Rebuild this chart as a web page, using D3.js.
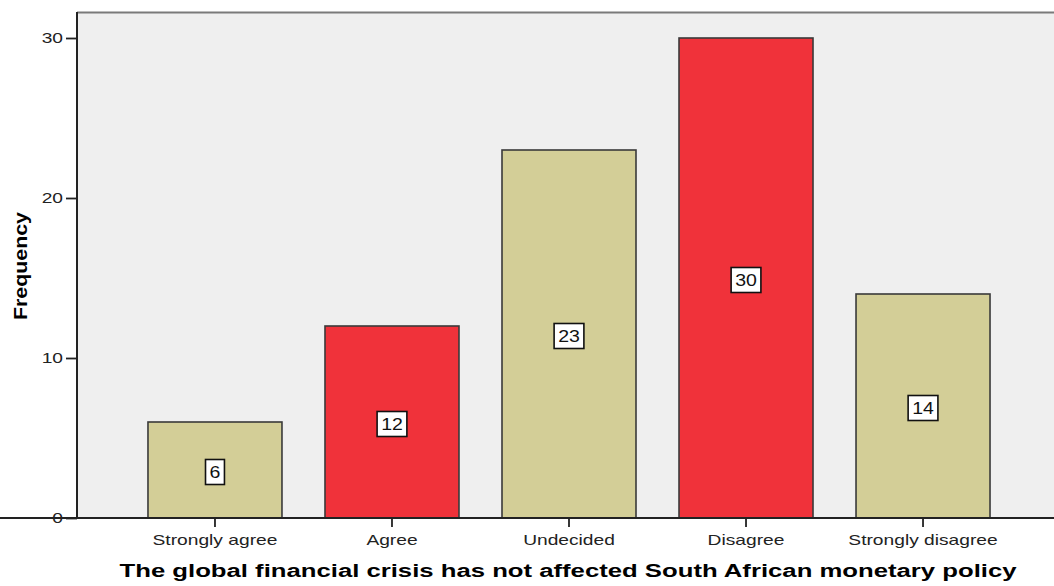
<!DOCTYPE html>
<html>
<head>
<meta charset="utf-8">
<script src="https://cdn.jsdelivr.net/npm/d3@7"></script>
<style>
  html, body { margin: 0; padding: 0; background: #ffffff; }
  svg { display: block; }
</style>
</head>
<body>
<svg id="chart" width="1054" height="586" font-family="'Liberation Sans', Arial, sans-serif"></svg>
<script>
// Responses to the statement, in scale order
const categories = ["Strongly agree", "Agree", "Undecided", "Disagree", "Strongly disagree"];
const frequencies = [6, 12, 23, 30, 14];
const barColors = ["#d3ce97", "#f0323a", "#d3ce97", "#f0323a", "#d3ce97"];
const yTicks = [0, 10, 20, 30];
const xTitle = "The global financial crisis has not affected South African monetary policy";
const yTitle = "Frequency";

const FONT = "'Liberation Sans', Arial, sans-serif";
const STRETCH = 1.28; // horizontal widening of the label type

const svg = d3.select("#chart");
const plot = { left: 77, top: 12, right: 1061, bottom: 518 };

const x = d3.scaleBand()
  .domain(categories)
  .range([plot.left, plot.right])
  .paddingInner(0.243)
  .paddingOuter(0.401);

const y = d3.scaleLinear()
  .domain([0, 30])
  .range([plot.bottom, 38]);

// widen text horizontally while keeping its anchor point in place
function widen(sel, sx) {
  sel.each(function () {
    const t = d3.select(this);
    const x0 = +t.attr("x") || 0;
    t.attr("x", x0 / sx).attr("transform", `scale(${sx},1)`);
  });
}

// plot background
svg.append("rect")
  .attr("x", plot.left).attr("y", plot.top)
  .attr("width", plot.right - plot.left).attr("height", plot.bottom - plot.top)
  .attr("fill", "#efefef");

// top frame line
svg.append("line")
  .attr("x1", plot.left).attr("x2", plot.right)
  .attr("y1", plot.top + 0.5).attr("y2", plot.top + 0.5)
  .attr("stroke", "#7a7a7a").attr("stroke-width", 2);

// bars
const data = categories.map((c, i) => ({ c, v: frequencies[i], color: barColors[i] }));
svg.append("g").selectAll("rect")
  .data(data).join("rect")
  .attr("x", d => x(d.c))
  .attr("y", d => y(d.v))
  .attr("width", x.bandwidth())
  .attr("height", d => y(0) - y(d.v))
  .attr("fill", d => d.color)
  .attr("stroke", "#3a3a3a")
  .attr("stroke-width", 1.6);

// y axis
const yAxis = svg.append("g")
  .attr("transform", `translate(${plot.left},0)`)
  .call(d3.axisLeft(y).tickValues(yTicks).tickSize(11).tickPadding(3).tickSizeOuter(0));
yAxis.select(".domain").attr("d", `M0,${plot.top}V${plot.bottom}`).attr("stroke", "#222").attr("stroke-width", 2);
yAxis.selectAll(".tick line").attr("stroke", "#222").attr("stroke-width", 1.8);
yAxis.selectAll(".tick text").attr("font-size", 15).attr("fill", "#222").attr("font-family", FONT)
  .call(widen, STRETCH);

// x axis
const xAxis = svg.append("g")
  .attr("transform", `translate(0,${plot.bottom})`)
  .call(d3.axisBottom(x).tickSize(9).tickPadding(7).tickSizeOuter(0));
xAxis.select(".domain").attr("d", `M0,0H${plot.right}`).attr("stroke", "#222").attr("stroke-width", 2);
xAxis.selectAll(".tick line").attr("stroke", "#222").attr("stroke-width", 1.8);
xAxis.selectAll(".tick text").attr("font-size", 15).attr("fill", "#222").attr("font-family", FONT)
  .call(widen, STRETCH);

// value labels in white boxes at mid-height of each bar
const labels = svg.append("g").selectAll("g")
  .data(data).join("g")
  .attr("transform", d => `translate(${x(d.c) + x.bandwidth() / 2},${y(d.v / 2) + 2})`);
labels.append("text")
  .attr("text-anchor", "middle")
  .attr("dy", "0.36em")
  .attr("font-size", 16)
  .attr("fill", "#111")
  .text(d => d.v)
  .call(widen, 1.22);
labels.each(function () {
  const g = d3.select(this);
  const bb = g.select("text").node().getBBox();
  const w = bb.width * 1.22;
  g.insert("rect", "text")
    .attr("x", -w / 2 - 4).attr("y", -12.5)
    .attr("width", w + 8).attr("height", 25)
    .attr("fill", "#ffffff").attr("stroke", "#111").attr("stroke-width", 1.6);
});

// axis titles
svg.append("text")
  .attr("x", 568).attr("y", 577)
  .attr("text-anchor", "middle")
  .attr("font-size", 18).attr("font-weight", "bold")
  .attr("textLength", 897).attr("lengthAdjust", "spacingAndGlyphs")
  .attr("fill", "#000")
  .text(xTitle);

svg.append("text")
  .attr("transform", "translate(27,266) rotate(-90)")
  .attr("text-anchor", "middle")
  .attr("font-size", 18).attr("font-weight", "bold")
  .attr("textLength", 108).attr("lengthAdjust", "spacingAndGlyphs")
  .attr("fill", "#000")
  .text(yTitle);
</script>
</body>
</html>
